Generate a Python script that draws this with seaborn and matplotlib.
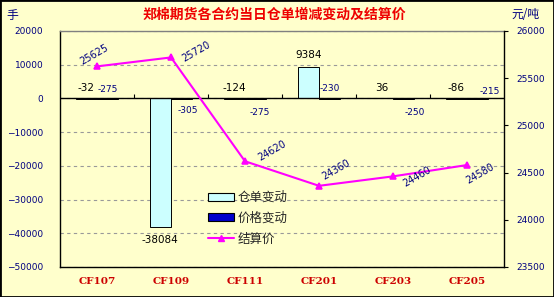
import matplotlib
matplotlib.use('Agg')
import matplotlib.pyplot as plt
import seaborn as sns
import pandas as pd
import numpy as np
from matplotlib.patches import Patch, Rectangle
from matplotlib.lines import Line2D

# ---------------- data ----------------
contracts = ['CF107', 'CF109', 'CF111', 'CF201', 'CF203', 'CF205']
warrant_change = [-32, -38084, -124, 9384, 36, -86]        # 仓单变动 (手)
price_change = [-275, -305, -275, -230, -250, -215]          # 价格变动
settle_price = [25625, 25720, 24620, 24360, 24460, 24580]    # 结算价 (元/吨)
series_names = ['仓单变动', '价格变动', '结算价']
title = '郑棉期货各合约当日仓单增减变动及结算价'

# label placement (pixels)
warrant_label = [('above', 0, 10), ('below', 0, -13), ('above', 0, 10),
                 ('above', 0, 12), ('above', 0, 10), ('above', 0, 10)]
pchange_label = [('above', 0, 9), ('below', 6, -12), ('below', 4, -14),
                 ('above', 0, 10), ('below', 11, -14), ('above', 12, 7)]
settle_label = [(-3, 12), (25, 6), (27, 11), (17, 16), (24, 0), (13, -9)]

# ---------------- style ----------------
bg = '#FFFFCC'
cyan = '#CCFFFF'
blue = '#0000CC'
magenta = '#FF00FF'
navy = '#000080'
red = '#CC0000'

sns.set_theme(style='white')
plt.rcParams['font.family'] = ['Noto Sans CJK SC', 'DejaVu Sans']
plt.rcParams['axes.unicode_minus'] = True

W, H = 554, 297
fig = plt.figure(figsize=(W / 100, H / 100), dpi=100, facecolor=bg)
ax = fig.add_axes([60 / W, 1 - 267 / H, 444 / W, 236 / H])
ax.set_facecolor(bg)

df = pd.DataFrame({
    'contract': contracts * 2,
    'series': [series_names[0]] * len(contracts) + [series_names[1]] * len(contracts),
    'value': warrant_change + price_change,
})
sns.barplot(data=df, x='contract', y='value', hue='series',
            palette=[cyan, blue], width=0.58, saturation=1,
            edgecolor='black', linewidth=0.7, ax=ax, legend=False, zorder=3)

ax.set_ylim(-50000, 20000)
ax.set_yticks(np.arange(-50000, 20001, 10000))
ax.set_xlim(-0.5, len(contracts) - 0.5)
ax.yaxis.grid(True, linestyle=(0, (3, 3)), color='#999999', linewidth=0.8, zorder=0)
ax.set_axisbelow(True)
ax.axhline(0, color='black', linewidth=1, zorder=4)

# small category-boundary ticks on the zero line
px_to_data = 70000 / 236
ax.vlines(np.arange(0.5, len(contracts) - 0.5, 1), 0, 4 * px_to_data,
          color='black', linewidth=0.8, zorder=4)

ax.set_xlabel('')
ax.set_ylabel('')
ax.set_xticks(range(len(contracts)))
ax.set_xticklabels(contracts, fontfamily='DejaVu Serif', fontweight='bold',
                   color=red, fontsize=7.5)
ax.tick_params(axis='x', length=0, pad=7)
ax.tick_params(axis='y', length=0, pad=12, labelsize=6.5, labelcolor=navy)
for lab in ax.get_yticklabels():
    lab.set_fontfamily('DejaVu Sans')

for s in ['left', 'bottom']:
    ax.spines[s].set_color('black')
    ax.spines[s].set_linewidth(1)
ax.spines['top'].set_color('#808080')
ax.spines['top'].set_linewidth(1)
ax.spines['right'].set_visible(False)

# bar value labels
containers = ax.containers
for bar, val, (pos, dx, dy) in zip(containers[0], warrant_change, warrant_label):
    xc = bar.get_x() + bar.get_width() / 2
    yref = max(val, 0) if pos == 'above' else val
    ax.annotate(f'{val}', xy=(xc, yref), xytext=(dx, dy), textcoords='offset pixels',
                ha='center', va='center', fontsize=7.5, color='black',
                fontfamily='DejaVu Sans', zorder=6)
for bar, val, (pos, dx, dy) in zip(containers[1], price_change, pchange_label):
    xc = bar.get_x() + bar.get_width() / 2
    yref = 0
    ax.annotate(f'{val}', xy=(xc, yref), xytext=(dx, dy), textcoords='offset pixels',
                ha='center', va='center', fontsize=6.5, color=navy,
                fontfamily='DejaVu Sans', zorder=6)

# settlement price line
ax2 = ax.twinx()
sns.pointplot(x=contracts, y=settle_price, ax=ax2, color=magenta, markers='^',
              markersize=4.5, linewidth=1.5, errorbar=None)
ax2.set_ylim(23500, 26000)
ax2.set_yticks(np.arange(23500, 26001, 500))
ax2.set_xlim(-0.5, len(contracts) - 0.5)
ax2.set_ylabel('')
ax2.set_xlabel('')
ax2.tick_params(axis='x', which='both', bottom=False, labelbottom=False, top=False)
ax2.tick_params(axis='y', direction='out', length=3, width=0.8, color='black',
                pad=6, labelsize=6.5, labelcolor=navy)
for lab in ax2.get_yticklabels():
    lab.set_fontfamily('DejaVu Sans')
for s in ['left', 'top', 'bottom']:
    ax2.spines[s].set_visible(False)
ax2.spines['right'].set_color('black')
ax2.spines['right'].set_linewidth(1)
ax2.grid(False)

for i, (val, (dx, dy)) in enumerate(zip(settle_price, settle_label)):
    ax2.annotate(f'{val}', xy=(i, val), xytext=(dx, dy), textcoords='offset pixels',
                 ha='center', va='center', rotation=30, fontsize=7, color=navy,
                 fontfamily='DejaVu Sans', zorder=7)

# titles / units
fig.text(274 / W, 1 - 15 / H, title, ha='center', va='center', color='#EE0000',
         fontsize=10, fontweight='bold')
fig.text(12 / W, 1 - 15 / H, '手', ha='center', va='center', color=navy, fontsize=8.5)
fig.text(525 / W, 1 - 15 / H, '元/吨', ha='center', va='center', color=navy, fontsize=8.5)

# legend
handles = [Patch(facecolor=cyan, edgecolor='black', linewidth=0.8),
           Patch(facecolor=blue, edgecolor='black', linewidth=0.8),
           Line2D([], [], color=magenta, marker='^', linewidth=1.5, markersize=5)]
fig.legend(handles, series_names, loc='upper left',
           bbox_to_anchor=(208 / W, 1 - 191 / H), frameon=False, fontsize=9,
           handlelength=2.1, handleheight=0.6, labelspacing=0.62,
           handletextpad=0.3, borderaxespad=0, borderpad=0)

fig.patches.append(Rectangle((0, 0), 1, 1, transform=fig.transFigure, fill=False,
                             edgecolor='black', linewidth=2))

fig.savefig('out.png', dpi=100, facecolor=bg)
